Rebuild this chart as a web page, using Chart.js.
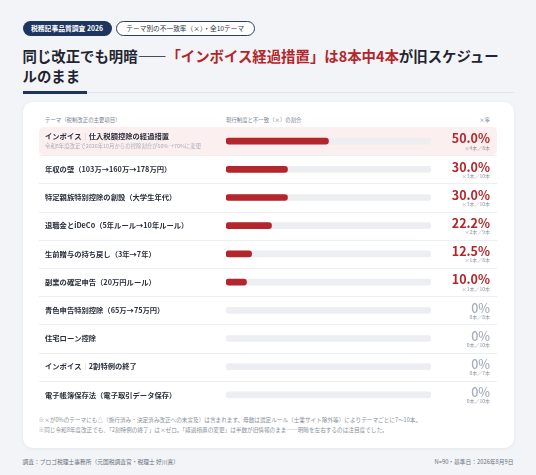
<!DOCTYPE html>
<html lang="ja">
<head>
<meta charset="utf-8">
<script src="https://cdn.jsdelivr.net/npm/chart.js@4"></script>
<style>
  body { margin:0; width:536px; height:475px; background:#f2f4f7; font-family:'Noto Sans CJK JP','Noto Sans',sans-serif; position:relative; overflow:hidden; }
  .abs { position:absolute; white-space:nowrap; }
  .badge1 { left:22.5px; top:20.5px; width:89px; height:15.5px; border-radius:8px; background:#1e3560; color:#fff; font-size:6.8px; font-weight:700; line-height:15.5px; text-align:center; }
  .badge2 { left:116px; top:20.5px; width:136.5px; height:13.5px; border-radius:8px; border:1px solid #2d3e63; background:#fff; color:#2f3540; font-size:6.7px; line-height:13.5px; text-align:center; }
  .title { left:22.5px; top:46px; font-size:14.4px; font-weight:700; line-height:20px; color:#1f2430; }
  .title .red { color:#b3262b; }
  .rule { left:22.5px; top:92px; width:491px; height:1px; background:#e1e4e9; }
  .rule-strong { left:22.5px; top:91px; width:64.5px; height:2.6px; background:#1e3560; }
  .card { left:22.5px; top:102px; width:491px; height:346px; border-radius:10px; background:#fff; box-shadow:0 1px 4px rgba(20,30,50,0.06); }
  .head { top:116.5px; font-size:5.4px; color:#7b8290; line-height:7px; }
  .note { left:38.5px; font-size:5.63px; color:#8a909b; line-height:7px; }
  .foot { top:458px; font-size:5.75px; color:#6b7280; line-height:7px; }
  canvas { position:absolute; left:39px; top:127px; }
</style>
</head>
<body>
<div class="abs badge1">税務記事品質調査 2026</div>
<div class="abs badge2">テーマ別の不一致率（×）・全10テーマ</div>
<div class="abs title">同じ改正でも明暗——<span class="red">「インボイス経過措置」は8本中4本</span>が旧スケジュー<br>ルのまま</div>
<div class="abs rule"></div>
<div class="abs rule-strong"></div>
<div class="abs card"></div>
<div class="abs head" style="left:45px">テーマ（税制改正の主要項目）</div>
<div class="abs head" style="left:226px">現行制度と不一致（×）の割合</div>
<div class="abs head" style="right:46px">×率</div>
<canvas id="rateChart" width="458" height="282"></canvas>
<div class="abs note" style="top:416px">※×が0%のテーマにも△（施行済み・決定済み改正への未言及）は含まれます。母数は選定ルール（士業サイト除外等）によりテーマごとに7〜10本。</div>
<div class="abs note" style="top:426px">※同じ令和8年度改正でも、「2割特例の終了」は×ゼロ。「経過措置の変更」は半数が旧情報のまま——明暗を左右するのは注目度でした。</div>
<div class="abs foot" style="left:22.5px">調査：ブロゴ税理士事務所（元国税調査官・税理士 好川寛）</div>
<div class="abs foot" style="right:22.5px">N=90・基準日：2026年8月9日</div>

<script>
// themes (rows, top to bottom)
const themes = [
    'インボイス｜仕入税額控除の経過措置',
    '年収の壁（103万→160万→178万円）',
    '特定親族特別控除の創設（大学生年代）',
    '退職金とiDeCo（5年ルール→10年ルール）',
    '生前贈与の持ち戻し（3年→7年）',
    '副業の確定申告（20万円ルール）',
    '青色申告特別控除（65万→75万円）',
    '住宅ローン控除',
    'インボイス｜2割特例の終了',
    '電子帳簿保存法（電子取引データ保存）'
];
const themeNotes = ['令和8年度改正で2026年10月からの控除割合が50%→70%に変更', '', '', '', '', '', '', '', '', ''];

// × rate (%), × count, articles checked
const mismatchRate = [50.0, 30.0, 30.0, 22.2, 12.5, 10.0, 0, 0, 0, 0];
const mismatchCount = [4, 3, 3, 2, 1, 1, 0, 0, 0, 0];
const sampleSize = [8, 10, 10, 9, 8, 10, 8, 10, 7, 10];
const highlightRow = 0;

const FONT = "'Noto Sans CJK JP','Noto Sans',sans-serif";

/** row backgrounds + left labels + right values */
const rowPlugin = {
    id: 'rows',
    beforeDatasetsDraw(chart) {
        const ctx = chart.ctx;
        const y = chart.scales.y;
        const step = y.getPixelForValue(1) - y.getPixelForValue(0);
        ctx.save();
        // highlighted row
        const hy = y.getPixelForValue(highlightRow) - step / 2;
        ctx.fillStyle = '#fcefef';
        ctx.beginPath();
        ctx.roundRect(0, hy, chart.width, step, 5);
        ctx.fill();
        // separators
        ctx.strokeStyle = '#eceef2';
        ctx.lineWidth = 1;
        for (let i = 0; i < themes.length - 1; i++) {
            const ly = Math.round(y.getPixelForValue(i) + step / 2) + 0.5;
            ctx.beginPath();
            ctx.moveTo(0, ly);
            ctx.lineTo(chart.width, ly);
            ctx.stroke();
        }
        ctx.restore();
    },
    afterDatasetsDraw(chart) {
        const ctx = chart.ctx;
        const y = chart.scales.y;
        ctx.save();
        ctx.textBaseline = 'middle';
        themes.forEach((label, i) => {
            const cy = y.getPixelForValue(i);
            const ty = themeNotes[i] ? cy - 4.5 : cy;
            // label, with a light divider for '｜'
            let x = 6;
            ctx.textAlign = 'left';
            const parts = label.split('｜');
            parts.forEach((p, k) => {
                if (k > 0) {
                    ctx.font = '400 7.3px ' + FONT;
                    ctx.fillStyle = '#b5bbc5';
                    ctx.fillText('｜', x, ty);
                    x += ctx.measureText('｜').width;
                }
                ctx.font = '700 7.3px ' + FONT;
                ctx.fillStyle = '#2a2f3a';
                ctx.fillText(p, x, ty);
                x += ctx.measureText(p).width;
            });
            if (themeNotes[i]) {
                ctx.font = '400 5.4px ' + FONT;
                ctx.fillStyle = '#a9afb9';
                ctx.fillText(themeNotes[i], 6, cy + 4.5);
            }
            // value
            const rx = 451;
            ctx.textAlign = 'right';
            const v = mismatchRate[i];
            if (v > 0) {
                ctx.font = '700 12.5px ' + FONT;
                ctx.fillStyle = '#b3262b';
                ctx.fillText(v.toFixed(1) + '%', rx, cy - 2.5);
                ctx.font = '400 5px ' + FONT;
                ctx.fillStyle = '#8d94a0';
                ctx.fillText('×' + mismatchCount[i] + '本／' + sampleSize[i] + '本', rx, cy + 6.6);
            } else {
                ctx.font = '500 12.5px ' + FONT;
                ctx.fillStyle = '#a6adb9';
                ctx.fillText('0%', rx, cy - 2.5);
                ctx.font = '400 5px ' + FONT;
                ctx.fillStyle = '#8d94a0';
                ctx.fillText('0本／' + sampleSize[i] + '本', rx, cy + 6.6);
            }
        });
        ctx.restore();
    }
};

new Chart(document.getElementById('rateChart'), {
    type: 'bar',
    data: {
        labels: themes,
        datasets: [
            {
                // zero rows get no bar at all
                data: mismatchRate.map(v => v > 0 ? v : null),
                backgroundColor: '#b3262b',
                barThickness: 6,
                borderRadius: 3,
                borderSkipped: false,
                grouped: false,
                order: 1
            },
            {
                // full-width track behind each bar
                data: themes.map(() => 100),
                backgroundColor: '#eceef2',
                barThickness: 6,
                borderRadius: 3,
                borderSkipped: false,
                grouped: false,
                order: 2
            }
        ]
    },
    options: {
        indexAxis: 'y',
        responsive: false,
        animation: false,
        layout: { padding: { left: 187, right: 66, top: 0, bottom: 0 } },
        plugins: { legend: { display: false }, tooltip: { enabled: false } },
        scales: {
            x: { display: false, min: 0, max: 100 },
            y: { display: false }
        }
    },
    plugins: [rowPlugin]
});
</script>
</body>
</html>
